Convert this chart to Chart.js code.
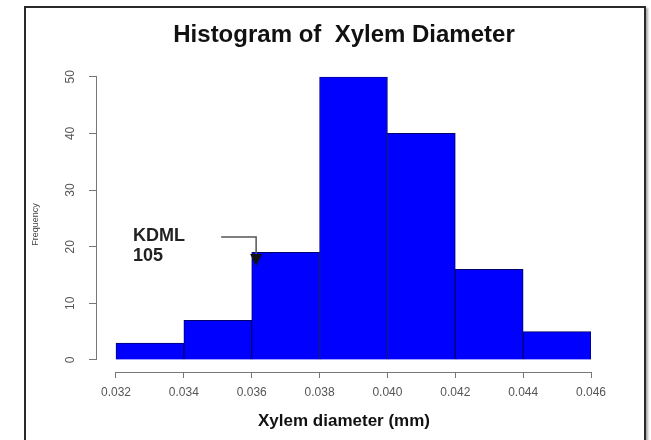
<!DOCTYPE html>
<html>
<head>
<meta charset="utf-8">
<script src="https://cdn.jsdelivr.net/npm/chart.js@4/dist/chart.umd.min.js"></script>
<style>
  body { margin: 0; background: #fff; }
  #wrap { position: relative; width: 651px; height: 440px; overflow: hidden; }
  #frame { position: absolute; left: 24px; top: 6px; width: 618px; height: 460px;
           border: 2px solid #2a2a2a; box-shadow: 2px 2px 2px #aaa; pointer-events: none; }
  canvas { position: absolute; left: 0; top: 0; }
</style>
</head>
<body>
<div id="wrap">
  <canvas id="chart" width="651" height="440"></canvas>
  <div id="frame"></div>
</div>
<script>
// bin edges (also the x tick labels) and counts per bin
var binEdges = [0.032, 0.034, 0.036, 0.038, 0.040, 0.042, 0.044, 0.046];
var counts = [3, 7, 19, 50, 40, 16, 5];
var yTicks = [0, 10, 20, 30, 40, 50];

// annotation text and where it sits, in data units
var noteLines = ["KDML", "105"];
var noteAt = { x: 0.0325, y: 21.8 };
var arrowFrom = { x: 0.0351, y: 21.7 };
var arrowTo = { x: 0.03613, y: 16.6 };

var bars = [];
for (var i = 0; i < counts.length; i++) {
  bars.push({ x: (binEdges[i] + binEdges[i + 1]) / 2, y: counts[i] });
}

var font = "'Liberation Sans', Arial, sans-serif";

// R style detached axis lines
var rAxes = {
  id: 'rAxes',
  afterDraw: function(chart) {
    var c = chart.ctx, xs = chart.scales.x, ys = chart.scales.y, a = chart.chartArea;
    c.save();
    c.strokeStyle = '#777';
    c.lineWidth = 1;
    c.beginPath();
    c.moveTo(a.left - 0.5, ys.getPixelForValue(yTicks[0]));
    c.lineTo(a.left - 0.5, ys.getPixelForValue(yTicks[yTicks.length - 1]));
    c.moveTo(xs.getPixelForValue(binEdges[0]), a.bottom + 0.5);
    c.lineTo(xs.getPixelForValue(binEdges[binEdges.length - 1]), a.bottom + 0.5);
    c.stroke();
    c.restore();
  }
};

// the KDML 105 label with its arrow
var note = {
  id: 'note',
  afterDatasetsDraw: function(chart) {
    var c = chart.ctx, xs = chart.scales.x, ys = chart.scales.y;
    var tx = xs.getPixelForValue(noteAt.x), ty = ys.getPixelForValue(noteAt.y);
    c.save();
    c.fillStyle = '#222';
    c.font = 'bold 18px ' + font;
    c.textAlign = 'left';
    c.textBaseline = 'middle';
    noteLines.forEach(function(t, k) { c.fillText(t, tx, ty + k * 20); });

    var x0 = xs.getPixelForValue(arrowFrom.x), y0 = ys.getPixelForValue(arrowFrom.y);
    var x1 = xs.getPixelForValue(arrowTo.x), y1 = ys.getPixelForValue(arrowTo.y);
    c.strokeStyle = '#555';
    c.lineWidth = 1.5;
    c.beginPath();
    c.moveTo(x0, y0);
    c.lineTo(x1, y0);
    c.lineTo(x1, y1 - 10);
    c.stroke();
    c.fillStyle = '#111';
    c.beginPath();
    c.moveTo(x1 - 6, y1 - 12);
    c.lineTo(x1 + 6, y1 - 12);
    c.lineTo(x1, y1);
    c.closePath();
    c.fill();
    c.restore();
  }
};

var ctx = document.getElementById("chart").getContext('2d');
var histChart = new Chart(ctx, {
  type: 'bar',
  data: {
    datasets: [{
      data: bars,
      backgroundColor: '#0000ff',
      borderColor: '#00006a',
      borderWidth: 1,
      barPercentage: 1,
      categoryPercentage: 1
    }]
  },
  options: {
    responsive: false,
    animation: false,
    layout: { padding: { left: 0, right: 60, top: 0, bottom: 0 } },
    plugins: {
      legend: { display: false },
      tooltip: { enabled: false },
      title: {
        display: true,
        text: 'Histogram of  Xylem Diameter',
        fullSize: false,
        color: '#111',
        font: { family: font, size: 24, weight: 'bold' },
        padding: { top: 21, bottom: 27 }
      }
    },
    scales: {
      x: {
        type: 'linear',
        offset: false,
        min: 0.03144,
        max: 0.046,
        afterBuildTicks: function(s) { s.ticks = binEdges.map(function(v) { return { value: v }; }); },
        afterFit: function(s) { s.height = 68; },
        grid: { offset: false, drawOnChartArea: false, drawTicks: true, tickLength: 6, color: '#777' },
        border: { display: false },
        ticks: {
          color: '#555',
          padding: 7,
          maxRotation: 0,
          autoSkip: false,
          font: { family: font, size: 12 },
          callback: function(v) { return v.toFixed(3); }
        },
        title: {
          display: true,
          text: 'Xylem diameter (mm)',
          color: '#111',
          font: { family: font, size: 17, weight: 'bold' },
          padding: { top: 0, bottom: 8 }
        }
      },
      y: {
        min: -2.12,
        max: 50,
        afterBuildTicks: function(s) { s.ticks = yTicks.map(function(v) { return { value: v }; }); },
        afterFit: function(s) { s.width = 97; },
        grid: { drawOnChartArea: false, drawTicks: true, tickLength: 8, color: '#777' },
        border: { display: false },
        ticks: {
          color: '#555',
          padding: 12,
          minRotation: 90,
          maxRotation: 90,
          crossAlign: 'center',
          font: { family: font, size: 12 }
        },
        title: {
          display: true,
          text: 'Frequency',
          color: '#444',
          font: { family: font, size: 9 },
          padding: { top: 30, bottom: 0 }
        }
      }
    }
  },
  plugins: [rAxes, note]
});
</script>
</body>
</html>
